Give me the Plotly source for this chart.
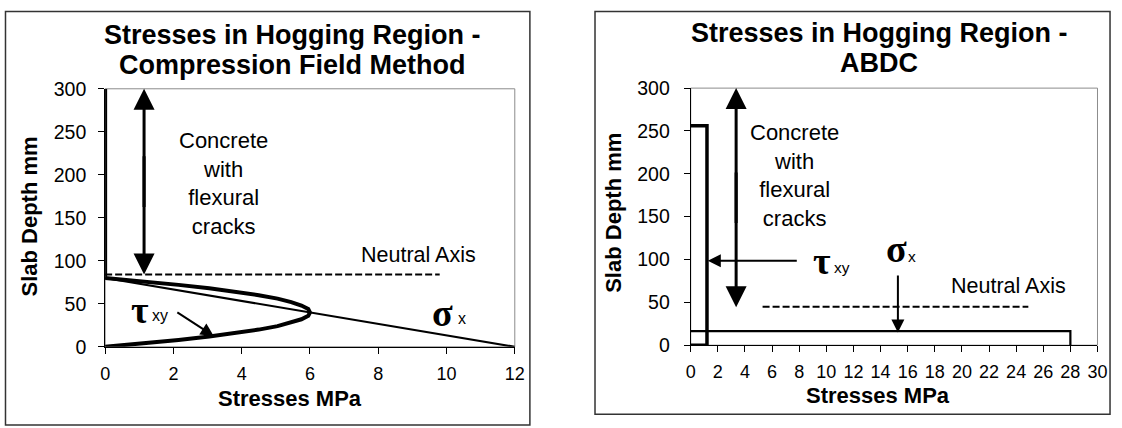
import plotly.graph_objects as go

W, H = 1122, 428

# ---------------- data ----------------
# Left chart: Compression Field Method
cfm_tau_depth = [0, 4, 8, 12, 16, 20, 24, 28, 32, 36, 40, 44, 48, 52, 56, 60, 64, 68, 72, 76, 80, 300]
cfm_tau = [0, 1.15, 2.15, 3.05, 3.85, 4.5, 5.05, 5.45, 5.75, 5.95, 6.0,
           5.95, 5.75, 5.45, 5.05, 4.5, 3.85, 3.05, 2.15, 1.15, 0, 0]
cfm_sigma_depth = [80, 0]
cfm_sigma = [0, 12]
cfm_na_depth = [84, 84]
cfm_na_x = [0, 9.8]
cfm_xticks = [0, 2, 4, 6, 8, 10, 12]
cfm_yticks = [0, 50, 100, 150, 200, 250, 300]

# Right chart: ABDC
abdc_tau = [0, 1.2, 1.2, 0]
abdc_tau_depth = [256, 256, 0, 0]
abdc_sigma = [0, 28, 28]
abdc_sigma_depth = [16.5, 16.5, 0]
abdc_na_depth = [45, 45]
abdc_na_x = [5.3, 24.9]
abdc_xticks = list(range(0, 31, 2))
abdc_yticks = [0, 50, 100, 150, 200, 250, 300]

titles_left = ["Stresses in Hogging Region -", "Compression Field Method"]
titles_right = ["Stresses in Hogging Region -", "ABDC"]
x_title = "Stresses MPa"
y_title = "Slab Depth mm"
concrete_text = "Concrete<br>with<br>flexural<br>cracks"

SANS = "Liberation Sans, Arial, sans-serif"
SERIF = "Liberation Serif, Times New Roman, serif"

fig = go.Figure()

# ---- left traces ----
fig.add_trace(go.Scatter(x=cfm_tau, y=cfm_tau_depth, mode="lines",
                         line=dict(color="black", width=4), xaxis="x", yaxis="y"))
fig.add_trace(go.Scatter(x=cfm_sigma, y=cfm_sigma_depth, mode="lines",
                         line=dict(color="black", width=2.2), xaxis="x", yaxis="y"))
fig.add_trace(go.Scatter(x=cfm_na_x, y=cfm_na_depth, mode="lines",
                         line=dict(color="black", width=2, dash="7px,3px"), xaxis="x", yaxis="y"))

# ---- right traces ----
fig.add_trace(go.Scatter(x=abdc_tau, y=abdc_tau_depth, mode="lines",
                         line=dict(color="black", width=3.5), xaxis="x2", yaxis="y2"))
fig.add_trace(go.Scatter(x=abdc_sigma, y=abdc_sigma_depth, mode="lines",
                         line=dict(color="black", width=2.2), xaxis="x2", yaxis="y2"))
fig.add_trace(go.Scatter(x=abdc_na_x, y=abdc_na_depth, mode="lines",
                         line=dict(color="black", width=2, dash="7px,3px"), xaxis="x2", yaxis="y2"))

axis_common = dict(showgrid=False, zeroline=False, showline=True, linecolor="black",
                   linewidth=1, ticks="outside", ticklen=6, tickcolor="black", tickwidth=1,
                   mirror=False, fixedrange=True)

fig.update_layout(
    width=W, height=H, margin=dict(l=0, r=0, t=0, b=0),
    paper_bgcolor="white", plot_bgcolor="white", showlegend=False,
    xaxis=dict(domain=[101.5 / W, 516.7 / W], range=[0, 12], tickvals=cfm_xticks,
               ticklabelstandoff=5,
               tickfont=dict(family=SANS, size=18, color="black"), anchor="y", **axis_common),
    yaxis=dict(domain=[1 - 354 / H, 1 - 82 / H], range=[0, 300], tickvals=cfm_yticks,
               ticklabelstandoff=8,
               tickfont=dict(family=SANS, size=19.5, color="black"), anchor="x", **axis_common),
    xaxis2=dict(domain=[695 / W, 1107.3 / W], range=[0, 30], tickvals=abdc_xticks,
                ticklabelstandoff=4,
                tickfont=dict(family=SANS, size=18, color="black"), anchor="y2", **axis_common),
    yaxis2=dict(domain=[1 - 352.3 / H, 1 - 81.3 / H], range=[0, 300], tickvals=abdc_yticks,
                ticklabelstandoff=10,
                tickfont=dict(family=SANS, size=19.5, color="black"), anchor="x2", **axis_common),
)

shapes = [
    # plot-area frames (grey)
    dict(type="rect", xref="x domain", yref="y domain", x0=0, x1=1, y0=0, y1=1,
         line=dict(color="#8c8c8c", width=1), layer="below"),
    dict(type="rect", xref="x2 domain", yref="y2 domain", x0=0, x1=1, y0=0, y1=1,
         line=dict(color="#8c8c8c", width=1), layer="below"),
    # chart outer borders
    dict(type="rect", xref="paper", yref="paper", x0=0.5 / W, x1=532 / W, y0=-0.02, y1=1 - 0.5 / H,
         line=dict(color="#333333", width=1.5)),
    dict(type="rect", xref="paper", yref="paper", x0=598 / W, x1=1120 / W, y0=1 - 425 / H, y1=1 - 0.5 / H,
         line=dict(color="#333333", width=1.5)),
]
fig.update_layout(shapes=shapes)

ann = []


def ptext(text, x, y, size, bold=False, angle=0, family=SANS):
    ann.append(dict(text=("<b>%s</b>" % text) if bold else text, x=x / W, y=1 - y / H,
                    xref="paper", yref="paper", showarrow=False, textangle=angle,
                    xanchor="center", yanchor="middle",
                    font=dict(family=family, size=size, color="black")))


def dtext(text, x, y, size, xr, yr, family=SANS, bold=False):
    ann.append(dict(text=("<b>%s</b>" % text) if bold else text, x=x, y=y, xref=xr, yref=yr,
                    showarrow=False, xanchor="center", yanchor="middle",
                    font=dict(family=family, size=size, color="black")))


def arrow(x, y, ax, ay, xr, yr, width, size):
    ann.append(dict(text="", x=x, y=y, ax=ax, ay=ay, xref=xr, yref=yr, axref=xr, ayref=yr,
                    showarrow=True, arrowhead=2, arrowsize=size, arrowwidth=width,
                    arrowcolor="black", standoff=0, borderpad=0,
                    font=dict(size=1)))


# titles
ptext(titles_left[0], 291, 25, 27, bold=True)
ptext(titles_left[1], 291, 57, 27, bold=True)
ptext(titles_right[0], 886, 23, 27, bold=True)
ptext(titles_right[1], 886, 55, 27, bold=True)
# axis titles
ptext(x_title, 288.5, 408, 22, bold=True)
ptext(x_title, 885, 405, 22, bold=True)
ptext(y_title, 25, 217, 22, bold=True, angle=-90)
ptext(y_title, 616, 213, 22, bold=True, angle=-90)

# ---- left annotations ----
dtext(concrete_text, 3.47, 190, 22, "x", "y")
dtext("Neutral Axis", 9.19, 107, 21.5, "x", "y")
dtext("τ", 1.03, 43, 38, "x", "y", family=SERIF, bold=True)
dtext("xy", 1.62, 36.4, 16, "x", "y")
dtext("σ", 9.87, 39, 38, "x", "y", family=SERIF, bold=True)
dtext("x", 10.45, 33, 16, "x", "y")
mid_l = (300 + 84) / 2
arrow(1.14, 300, 1.14, mid_l - 30, "x", "y", 3, 1.4)
arrow(1.14, 84, 1.14, mid_l + 30, "x", "y", 3, 1.4)
arrow(3.18, 12.5, 2.10, 40.5, "x", "y", 2, 1.3)

# ---- right annotations ----
dtext(concrete_text, 7.66, 198.5, 22, "x2", "y2")
dtext("Neutral Axis", 23.47, 69, 21.5, "x2", "y2")
dtext("τ", 9.68, 98, 38, "x2", "y2", family=SERIF, bold=True)
dtext("xy", 11.15, 91, 15.5, "x2", "y2")
dtext("σ", 15.2, 112, 38, "x2", "y2", family=SERIF, bold=True)
dtext("x", 16.35, 104, 15.5, "x2", "y2")
mid_r = (300 + 44.3) / 2
arrow(3.35, 300, 3.35, mid_r - 30, "x2", "y2", 3, 1.4)
arrow(3.35, 44.3, 3.35, mid_r + 30, "x2", "y2", 3, 1.4)
arrow(1.26, 98.5, 7.86, 98.5, "x2", "y2", 2, 1.3)
arrow(15.28, 14.7, 15.28, 82, "x2", "y2", 2, 1.3)

fig.update_layout(annotations=ann)

fig.write_html("out.html", config={"displayModeBar": False})

# remove default page margins so the figure sits exactly in the window
with open("out.html", "r", encoding="utf-8") as f:
    html = f.read()
html = html.replace("<head>", "<head><style>html,body{margin:0;padding:0;overflow:hidden;}</style>", 1)
with open("out.html", "w", encoding="utf-8") as f:
    f.write(html)
